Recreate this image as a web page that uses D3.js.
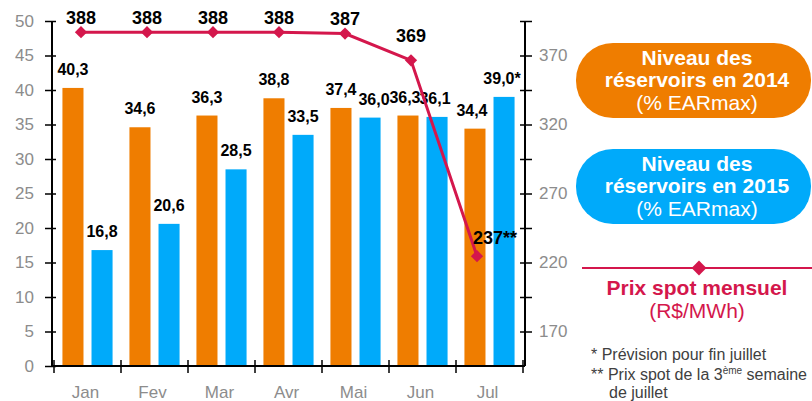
<!DOCTYPE html>
<html>
<head>
<meta charset="utf-8">
<script src="https://cdn.jsdelivr.net/npm/d3@7"></script>
<style>
  body { margin: 0; background: #fff; }
  svg { font-family: "Liberation Sans", Arial, sans-serif; display: block; }
</style>
</head>
<body>
<svg id="chart"></svg>
<script>
// data
const months = ["Jan", "Fev", "Mar", "Avr", "Mai", "Jun", "Jul"];
const level2014 = [40.3, 34.6, 36.3, 38.8, 37.4, 36.3, 34.4];
const level2015 = [16.8, 20.6, 28.5, 33.5, 36.0, 36.1, 39.0];
const label2015 = ["16,8", "20,6", "28,5", "33,5", "36,0", "36,1", "39,0*"];
const label2014 = ["40,3", "34,6", "36,3", "38,8", "37,4", "36,3", "34,4"];
const spotPrice = [388, 388, 388, 388, 387, 369, 237];
const spotLabels = ["388", "388", "388", "388", "387", "369", "237**"];
const leftTicks = [0, 5, 10, 15, 20, 25, 30, 35, 40, 45, 50];
const rightTicks = [170, 195, 220, 245, 270, 295, 320, 345, 370, 395];
const rightLabels = [170, 220, 270, 320, 370];

// layout
const width = 812;
const height = 401;
const axisLeftX = 52;
const axisRightX = 525;
const plotTop = 21;
const plotBottom = 366;
const orange = "#EF7D00";
const blue = "#00AAFA";
const crimson = "#D4174C";
const grey = "#8C8C8C";
// label nudges (px)
const spotDy = [-8, -8, -8, -8, -9, -18, -12];
const spotDx = [0, 0, 0, 0, 0, 0, 18];
const dx2014 = [0, 0, 0, 0, 0, -3, -3];
const dx2015 = [0, 0, 0, 0, 4, -2, -2];

const svg = d3.select("#chart").attr("width", width).attr("height", height);

const xScale = d3.scaleBand().domain(months).range([54, 523]);
const subScale = d3
  .scaleBand()
  .domain(["2014", "2015"])
  .range([0, xScale.bandwidth()])
  .paddingInner(0.276)
  .paddingOuter(0.29);
const yScale = d3.scaleLinear().domain([0, 50]).range([plotBottom, plotTop]);
const rightScale = d3.scaleLinear().domain([145, 395]).range([plotBottom, plotTop]);
// the price line in the source sits on its own scale, not quite the drawn axis
const priceScale = d3.scaleLinear().domain([163, 395.5]).range([plotBottom, plotTop]);
const pointScale = d3.scalePoint().domain(months).range([81, 477]);

// bars
const drawBars = (values, labels, key, color, nudge) => {
  const g = svg.append("g");
  g.selectAll("rect")
    .data(values)
    .enter()
    .append("rect")
    .attr("x", (d, i) => xScale(months[i]) + subScale(key))
    .attr("y", (d) => yScale(d))
    .attr("width", subScale.bandwidth())
    .attr("height", (d) => plotBottom - yScale(d))
    .attr("fill", color);
  g.selectAll("text")
    .data(values)
    .enter()
    .append("text")
    .attr("x", (d, i) => xScale(months[i]) + subScale(key) + subScale.bandwidth() / 2 + nudge[i])
    .attr("y", (d) => yScale(d) - 13)
    .attr("text-anchor", "middle")
    .attr("font-size", 16)
    .attr("font-weight", "bold")
    .attr("fill", "#000")
    .text((d, i) => labels[i]);
};
drawBars(level2014, label2014, "2014", orange, dx2014);
drawBars(level2015, label2015, "2015", blue, dx2015);

// axes
const leftAxis = d3.axisLeft(yScale).tickValues(leftTicks).tickSize(7).tickPadding(11);
const gl = svg
  .append("g")
  .attr("transform", "translate(" + axisLeftX + ",0)")
  .call(leftAxis);
gl.select(".domain").remove();
gl.selectAll(".tick line").attr("x1", 4).attr("x2", -7).attr("stroke", "#000").attr("stroke-width", 1.5);
gl.selectAll(".tick text").attr("font-size", 17).attr("fill", grey).attr("font-family", null);
gl.append("line")
  .attr("y1", plotTop).attr("y2", plotBottom)
  .attr("stroke", "#000").attr("stroke-width", 2);

const rightAxis = d3
  .axisRight(rightScale)
  .tickValues(rightTicks)
  .tickSize(7)
  .tickPadding(7)
  .tickFormat((d) => (rightLabels.includes(d) ? d : ""));
const gr = svg
  .append("g")
  .attr("transform", "translate(" + axisRightX + ",0)")
  .call(rightAxis);
gr.select(".domain").remove();
gr.selectAll(".tick line").attr("x1", -5).attr("x2", 7).attr("stroke", "#000").attr("stroke-width", 1.5);
gr.selectAll(".tick text").attr("font-size", 17).attr("fill", grey).attr("font-family", null);
gr.append("line")
  .attr("y1", plotTop).attr("y2", plotBottom)
  .attr("stroke", "#000").attr("stroke-width", 2);

// x axis
const gx = svg.append("g").attr("transform", "translate(0," + plotBottom + ")");
gx.append("line")
  .attr("x1", axisLeftX).attr("x2", axisRightX)
  .attr("stroke", "#000").attr("stroke-width", 2);
const boundaries = months.map((m) => xScale(m)).concat([xScale.range()[1]]);
gx.selectAll("line.tick")
  .data(boundaries)
  .enter()
  .append("line")
  .attr("class", "tick")
  .attr("x1", (d) => d).attr("x2", (d) => d)
  .attr("y1", -6).attr("y2", 7)
  .attr("stroke", "#000").attr("stroke-width", 1.5);
gx.selectAll("text")
  .data(months)
  .enter()
  .append("text")
  .attr("x", (d) => xScale(d) + xScale.bandwidth() / 2 - 2)
  .attr("y", 32)
  .attr("text-anchor", "middle")
  .attr("font-size", 17)
  .attr("fill", grey)
  .text((d) => d);

// price line
const line = d3
  .line()
  .x((d, i) => pointScale(months[i]))
  .y((d) => priceScale(d));
svg.append("path")
  .datum(spotPrice)
  .attr("d", line)
  .attr("fill", "none")
  .attr("stroke", crimson)
  .attr("stroke-width", 3);
const diamond = d3.symbol(d3.symbolSquare, 75);
svg.selectAll("path.pt")
  .data(spotPrice)
  .enter()
  .append("path")
  .attr("class", "pt")
  .attr("d", diamond)
  .attr("transform", (d, i) => "translate(" + pointScale(months[i]) + "," + priceScale(d) + ") rotate(45)")
  .attr("fill", crimson);
svg.selectAll("text.pl")
  .data(spotPrice)
  .enter()
  .append("text")
  .attr("class", "pl")
  .attr("x", (d, i) => pointScale(months[i]) + spotDx[i])
  .attr("y", (d, i) => priceScale(d) + spotDy[i])
  .attr("text-anchor", "middle")
  .attr("font-size", 18)
  .attr("font-weight", "bold")
  .attr("fill", "#000")
  .text((d, i) => spotLabels[i]);

// legend
const pill = (y, color, title2) => {
  const g = svg.append("g");
  g.append("rect")
    .attr("x", 576).attr("y", y)
    .attr("width", 235).attr("height", 75)
    .attr("rx", 37).attr("fill", color);
  const lines = [
    ["Niveau des", "bold", 22],
    [title2, "bold", 44],
    ["(% EARmax)", "normal", 67],
  ];
  g.selectAll("text")
    .data(lines)
    .enter()
    .append("text")
    .attr("x", 697)
    .attr("y", (d) => y + d[2])
    .attr("text-anchor", "middle")
    .attr("font-size", 21)
    .attr("font-weight", (d) => d[1])
    .attr("fill", "#fff")
    .text((d) => d[0]);
};
pill(43, orange, "réservoirs en 2014");
pill(149, blue, "réservoirs en 2015");

svg.append("line")
  .attr("x1", 582).attr("x2", 812)
  .attr("y1", 268).attr("y2", 268)
  .attr("stroke", crimson).attr("stroke-width", 2);
svg.append("path")
  .attr("d", d3.symbol(d3.symbolSquare, 110))
  .attr("transform", "translate(699,268) rotate(45)")
  .attr("fill", crimson);
svg.append("text")
  .attr("x", 697).attr("y", 295)
  .attr("text-anchor", "middle")
  .attr("font-size", 21).attr("font-weight", "bold")
  .attr("fill", crimson)
  .text("Prix spot mensuel");
svg.append("text")
  .attr("x", 697).attr("y", 318)
  .attr("text-anchor", "middle")
  .attr("font-size", 21)
  .attr("fill", crimson)
  .text("(R$/MWh)");

// footnotes
const notes = svg.append("g").attr("font-size", 16).attr("fill", "#404040");
notes.append("text").attr("x", 591).attr("y", 360).text("* Prévision pour fin juillet");
const n2 = notes.append("text").attr("x", 591).attr("y", 380);
n2.append("tspan").text("** Prix spot de la 3");
n2.append("tspan").attr("font-size", 10).attr("dy", -6).text("ème");
n2.append("tspan").attr("dy", 6).text(" semaine");
notes.append("text").attr("x", 609).attr("y", 398).text("de juillet");
</script>
</body>
</html>
